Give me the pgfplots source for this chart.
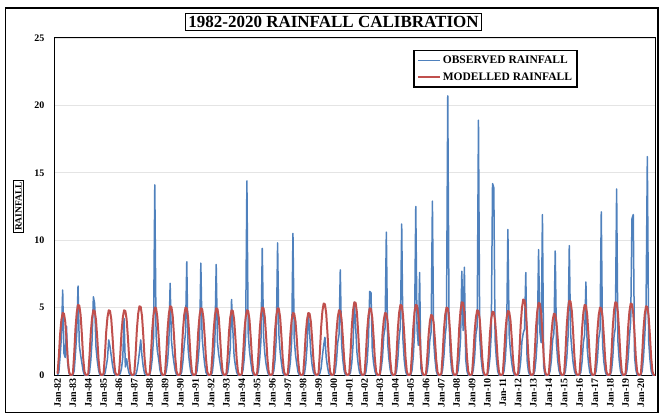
\documentclass[border=0pt]{standalone}
\usepackage{fontspec}
\setmainfont{Liberation Serif}
\usepackage{pgfplots}
\usepackage{pgfplotstable}
\pgfplotsset{compat=1.18}

\definecolor{obsblue}{HTML}{4F81BD}
\definecolor{modred}{HTML}{C0504D}
\definecolor{gridgray}{HTML}{E4E4E4}

% Monthly observed rainfall, Jan 1982 - Dec 2020 (one year per line)
\pgfplotstableread[row sep=\\, header=false]{
0 \\ 0.2 \\ 1.4 \\ 2.8 \\ 6.3 \\ 1.6 \\ 1.3 \\ 3.6 \\ 0.8 \\ 0.1 \\ 0 \\ 0 \\ % 1982
0 \\ 0.3 \\ 1.6 \\ 3.1 \\ 6.6 \\ 2.2 \\ 1.5 \\ 0.9 \\ 0.3 \\ 0 \\ 0 \\ 0 \\ % 1983
0 \\ 0.2 \\ 1.1 \\ 2.6 \\ 5.8 \\ 5.3 \\ 2.1 \\ 1.1 \\ 0.4 \\ 0 \\ 0 \\ 0 \\ % 1984
0 \\ 0.1 \\ 0.6 \\ 1.2 \\ 2.6 \\ 2.1 \\ 1.4 \\ 0.7 \\ 0.2 \\ 0 \\ 0 \\ 0 \\ % 1985
0 \\ 0.1 \\ 0.5 \\ 1.3 \\ 4.2 \\ 0.6 \\ 1.2 \\ 0.5 \\ 0.1 \\ 0 \\ 0 \\ 0 \\ % 1986
0 \\ 0 \\ 0.3 \\ 0.9 \\ 1.7 \\ 2.6 \\ 1.4 \\ 0.6 \\ 0.1 \\ 0 \\ 0 \\ 0 \\ % 1987
0 \\ 0.4 \\ 1.2 \\ 2.7 \\ 14.1 \\ 3.0 \\ 1.8 \\ 1.2 \\ 0.4 \\ 0 \\ 0 \\ 0 \\ % 1988
0 \\ 0.3 \\ 1.0 \\ 2.4 \\ 6.8 \\ 2.6 \\ 1.6 \\ 0.9 \\ 0.3 \\ 0 \\ 0 \\ 0 \\ % 1989
0 \\ 0.2 \\ 1.0 \\ 2.2 \\ 3.1 \\ 8.4 \\ 2.0 \\ 1.0 \\ 0.3 \\ 0 \\ 0 \\ 0 \\ % 1990
0 \\ 0.3 \\ 1.2 \\ 2.5 \\ 8.3 \\ 2.8 \\ 1.7 \\ 0.8 \\ 0.2 \\ 0 \\ 0 \\ 0 \\ % 1991
0 \\ 0.2 \\ 1.1 \\ 2.6 \\ 8.2 \\ 2.4 \\ 1.5 \\ 0.9 \\ 0.3 \\ 0 \\ 0 \\ 0 \\ % 1992
0 \\ 0.2 \\ 0.9 \\ 2.0 \\ 5.6 \\ 3.4 \\ 1.4 \\ 0.7 \\ 0.2 \\ 0 \\ 0 \\ 0 \\ % 1993
0 \\ 0.4 \\ 1.3 \\ 2.9 \\ 14.4 \\ 3.1 \\ 1.8 \\ 1.0 \\ 0.3 \\ 0 \\ 0 \\ 0 \\ % 1994
0 \\ 0.3 \\ 1.2 \\ 2.6 \\ 9.4 \\ 2.9 \\ 1.6 \\ 0.8 \\ 0.3 \\ 0 \\ 0 \\ 0 \\ % 1995
0 \\ 0.3 \\ 1.1 \\ 2.8 \\ 9.8 \\ 3.0 \\ 1.7 \\ 0.9 \\ 0.2 \\ 0 \\ 0 \\ 0 \\ % 1996
0 \\ 0.2 \\ 1.0 \\ 2.5 \\ 10.5 \\ 2.7 \\ 1.5 \\ 0.8 \\ 0.2 \\ 0 \\ 0 \\ 0 \\ % 1997
0 \\ 0.1 \\ 0.8 \\ 2.1 \\ 4.6 \\ 3.2 \\ 1.6 \\ 0.7 \\ 0.2 \\ 0 \\ 0 \\ 0 \\ % 1998
0 \\ 0.1 \\ 0.5 \\ 1.4 \\ 2.2 \\ 2.8 \\ 1.3 \\ 0.6 \\ 0.1 \\ 0 \\ 0 \\ 0 \\ % 1999
0 \\ 0.2 \\ 1.0 \\ 2.4 \\ 3.0 \\ 7.8 \\ 2.3 \\ 1.1 \\ 0.3 \\ 0 \\ 0 \\ 0 \\ % 2000
0 \\ 0.2 \\ 0.9 \\ 2.3 \\ 5.4 \\ 3.6 \\ 1.7 \\ 0.8 \\ 0.2 \\ 0 \\ 0 \\ 0 \\ % 2001
0 \\ 0.2 \\ 1.0 \\ 2.6 \\ 6.2 \\ 6.1 \\ 1.9 \\ 0.9 \\ 0.3 \\ 0 \\ 0 \\ 0 \\ % 2002
0 \\ 0.5 \\ 1.3 \\ 2.9 \\ 3.5 \\ 10.6 \\ 2.4 \\ 1.2 \\ 0.4 \\ 0 \\ 0 \\ 0 \\ % 2003
0 \\ 0.3 \\ 1.2 \\ 2.8 \\ 3.6 \\ 11.2 \\ 2.6 \\ 1.1 \\ 0.3 \\ 0 \\ 0 \\ 0 \\ % 2004
0 \\ 0.3 \\ 1.3 \\ 3.0 \\ 12.5 \\ 3.4 \\ 2.2 \\ 7.6 \\ 0.5 \\ 0 \\ 0 \\ 0 \\ % 2005
0 \\ 0.3 \\ 1.1 \\ 2.6 \\ 3.2 \\ 12.9 \\ 2.5 \\ 1.2 \\ 0.3 \\ 0 \\ 0 \\ 0 \\ % 2006
0 \\ 0.4 \\ 1.4 \\ 2.9 \\ 3.8 \\ 20.7 \\ 4.2 \\ 1.5 \\ 0.4 \\ 0 \\ 0 \\ 0 \\ % 2007
0 \\ 0.3 \\ 1.2 \\ 2.7 \\ 7.7 \\ 3.3 \\ 8.0 \\ 1.2 \\ 0.3 \\ 0 \\ 0 \\ 0 \\ % 2008
0 \\ 0.4 \\ 1.3 \\ 3.0 \\ 3.6 \\ 18.9 \\ 2.8 \\ 1.3 \\ 0.4 \\ 0 \\ 0 \\ 0 \\ % 2009
0 \\ 0.4 \\ 1.3 \\ 3.1 \\ 14.2 \\ 13.9 \\ 2.6 \\ 1.2 \\ 0.3 \\ 0 \\ 0 \\ 0 \\ % 2010
0 \\ 0.3 \\ 1.2 \\ 2.8 \\ 10.8 \\ 3.0 \\ 1.8 \\ 0.9 \\ 0.3 \\ 0 \\ 0 \\ 0 \\ % 2011
0 \\ 0.2 \\ 1.0 \\ 2.5 \\ 3.1 \\ 3.4 \\ 7.6 \\ 1.1 \\ 0.3 \\ 0 \\ 0 \\ 0 \\ % 2012
0 \\ 0.3 \\ 1.2 \\ 2.7 \\ 9.3 \\ 3.2 \\ 2.4 \\ 11.9 \\ 0.6 \\ 0 \\ 0 \\ 0 \\ % 2013
0 \\ 0.3 \\ 1.1 \\ 2.6 \\ 3.1 \\ 9.2 \\ 2.3 \\ 1.0 \\ 0.3 \\ 0 \\ 0 \\ 0 \\ % 2014
0 \\ 0.3 \\ 1.2 \\ 2.8 \\ 9.6 \\ 3.1 \\ 1.9 \\ 0.9 \\ 0.3 \\ 0 \\ 0 \\ 0 \\ % 2015
0 \\ 0.2 \\ 1.0 \\ 2.4 \\ 3.0 \\ 6.9 \\ 2.0 \\ 0.9 \\ 0.2 \\ 0 \\ 0 \\ 0 \\ % 2016
0 \\ 0.3 \\ 1.2 \\ 2.7 \\ 3.3 \\ 12.1 \\ 2.3 \\ 1.0 \\ 0.3 \\ 0 \\ 0 \\ 0 \\ % 2017
0 \\ 0.3 \\ 1.3 \\ 2.9 \\ 3.5 \\ 13.8 \\ 2.5 \\ 1.1 \\ 0.3 \\ 0 \\ 0 \\ 0 \\ % 2018
0 \\ 0.3 \\ 1.2 \\ 2.8 \\ 4.0 \\ 11.6 \\ 11.9 \\ 1.4 \\ 0.4 \\ 0 \\ 0 \\ 0 \\ % 2019
0 \\ 0.3 \\ 1.3 \\ 2.9 \\ 5.0 \\ 16.2 \\ 2.6 \\ 1.2 \\ 0.3 \\ 0 \\ 0 \\ 0 \\ % 2020
}\observed

% Monthly modelled rainfall, Jan 1982 - Dec 2020 (one year per line)
\pgfplotstableread[row sep=\\, header=false]{
0.09 \\ 1.38 \\ 3.04 \\ 4.09 \\ 4.60 \\ 4.55 \\ 3.96 \\ 2.67 \\ 1.15 \\ 0.23 \\ 0 \\ 0 \\ % 1982
0.10 \\ 1.56 \\ 3.43 \\ 4.63 \\ 5.20 \\ 5.15 \\ 4.47 \\ 3.02 \\ 1.30 \\ 0.26 \\ 0 \\ 0 \\ % 1983
0.10 \\ 1.44 \\ 3.17 \\ 4.27 \\ 4.80 \\ 4.75 \\ 4.13 \\ 2.78 \\ 1.20 \\ 0.24 \\ 0 \\ 0 \\ % 1984
0.10 \\ 1.44 \\ 3.17 \\ 4.27 \\ 4.80 \\ 4.75 \\ 4.13 \\ 2.78 \\ 1.20 \\ 0.24 \\ 0 \\ 0 \\ % 1985
0.10 \\ 1.44 \\ 3.17 \\ 4.27 \\ 4.80 \\ 4.75 \\ 4.13 \\ 2.78 \\ 1.20 \\ 0.24 \\ 0 \\ 0 \\ % 1986
0.10 \\ 1.53 \\ 3.37 \\ 4.54 \\ 5.10 \\ 5.05 \\ 4.39 \\ 2.96 \\ 1.28 \\ 0.26 \\ 0 \\ 0 \\ % 1987
0.10 \\ 1.50 \\ 3.30 \\ 4.45 \\ 5.00 \\ 4.95 \\ 4.30 \\ 2.90 \\ 1.25 \\ 0.25 \\ 0 \\ 0 \\ % 1988
0.10 \\ 1.53 \\ 3.37 \\ 4.54 \\ 5.10 \\ 5.05 \\ 4.39 \\ 2.96 \\ 1.28 \\ 0.26 \\ 0 \\ 0 \\ % 1989
0.10 \\ 1.50 \\ 3.30 \\ 4.45 \\ 5.00 \\ 4.95 \\ 4.30 \\ 2.90 \\ 1.25 \\ 0.25 \\ 0 \\ 0 \\ % 1990
0.10 \\ 1.49 \\ 3.27 \\ 4.41 \\ 4.95 \\ 4.90 \\ 4.26 \\ 2.87 \\ 1.24 \\ 0.25 \\ 0 \\ 0 \\ % 1991
0.10 \\ 1.49 \\ 3.27 \\ 4.41 \\ 4.95 \\ 4.90 \\ 4.26 \\ 2.87 \\ 1.24 \\ 0.25 \\ 0 \\ 0 \\ % 1992
0.10 \\ 1.44 \\ 3.17 \\ 4.27 \\ 4.80 \\ 4.75 \\ 4.13 \\ 2.78 \\ 1.20 \\ 0.24 \\ 0 \\ 0 \\ % 1993
0.10 \\ 1.44 \\ 3.17 \\ 4.27 \\ 4.80 \\ 4.75 \\ 4.13 \\ 2.78 \\ 1.20 \\ 0.24 \\ 0 \\ 0 \\ % 1994
0.10 \\ 1.50 \\ 3.30 \\ 4.45 \\ 5.00 \\ 4.95 \\ 4.30 \\ 2.90 \\ 1.25 \\ 0.25 \\ 0 \\ 0 \\ % 1995
0.10 \\ 1.49 \\ 3.27 \\ 4.41 \\ 4.95 \\ 4.90 \\ 4.26 \\ 2.87 \\ 1.24 \\ 0.25 \\ 0 \\ 0 \\ % 1996
0.09 \\ 1.38 \\ 3.04 \\ 4.09 \\ 4.60 \\ 4.55 \\ 3.96 \\ 2.67 \\ 1.15 \\ 0.23 \\ 0 \\ 0 \\ % 1997
0.09 \\ 1.38 \\ 3.04 \\ 4.09 \\ 4.60 \\ 4.55 \\ 3.96 \\ 2.67 \\ 1.15 \\ 0.23 \\ 0 \\ 0 \\ % 1998
0.11 \\ 1.59 \\ 3.50 \\ 4.72 \\ 5.30 \\ 5.25 \\ 4.56 \\ 3.07 \\ 1.33 \\ 0.27 \\ 0 \\ 0 \\ % 1999
0.10 \\ 1.44 \\ 3.17 \\ 4.27 \\ 4.80 \\ 4.75 \\ 4.13 \\ 2.78 \\ 1.20 \\ 0.24 \\ 0 \\ 0 \\ % 2000
0.11 \\ 1.62 \\ 3.56 \\ 4.81 \\ 5.40 \\ 5.35 \\ 4.64 \\ 3.13 \\ 1.35 \\ 0.27 \\ 0 \\ 0 \\ % 2001
0.10 \\ 1.49 \\ 3.27 \\ 4.41 \\ 4.95 \\ 4.90 \\ 4.26 \\ 2.87 \\ 1.24 \\ 0.25 \\ 0 \\ 0 \\ % 2002
0.09 \\ 1.38 \\ 3.04 \\ 4.09 \\ 4.60 \\ 4.55 \\ 3.96 \\ 2.67 \\ 1.15 \\ 0.23 \\ 0 \\ 0 \\ % 2003
0.10 \\ 1.56 \\ 3.43 \\ 4.63 \\ 5.20 \\ 5.15 \\ 4.47 \\ 3.02 \\ 1.30 \\ 0.26 \\ 0 \\ 0 \\ % 2004
0.10 \\ 1.56 \\ 3.43 \\ 4.63 \\ 5.20 \\ 5.15 \\ 4.47 \\ 3.02 \\ 1.30 \\ 0.26 \\ 0 \\ 0 \\ % 2005
0.09 \\ 1.34 \\ 2.94 \\ 3.96 \\ 4.45 \\ 4.41 \\ 3.83 \\ 2.58 \\ 1.11 \\ 0.22 \\ 0 \\ 0 \\ % 2006
0.10 \\ 1.50 \\ 3.30 \\ 4.45 \\ 5.00 \\ 4.95 \\ 4.30 \\ 2.90 \\ 1.25 \\ 0.25 \\ 0 \\ 0 \\ % 2007
0.11 \\ 1.62 \\ 3.56 \\ 4.81 \\ 5.40 \\ 5.35 \\ 4.64 \\ 3.13 \\ 1.35 \\ 0.27 \\ 0 \\ 0 \\ % 2008
0.10 \\ 1.44 \\ 3.17 \\ 4.27 \\ 4.80 \\ 4.75 \\ 4.13 \\ 2.78 \\ 1.20 \\ 0.24 \\ 0 \\ 0 \\ % 2009
0.09 \\ 1.41 \\ 3.10 \\ 4.18 \\ 4.70 \\ 4.65 \\ 4.04 \\ 2.73 \\ 1.18 \\ 0.24 \\ 0 \\ 0 \\ % 2010
0.10 \\ 1.43 \\ 3.14 \\ 4.23 \\ 4.75 \\ 4.70 \\ 4.09 \\ 2.76 \\ 1.19 \\ 0.24 \\ 0 \\ 0 \\ % 2011
0.11 \\ 1.68 \\ 3.70 \\ 4.98 \\ 5.60 \\ 5.54 \\ 4.82 \\ 3.25 \\ 1.40 \\ 0.28 \\ 0 \\ 0 \\ % 2012
0.11 \\ 1.61 \\ 3.53 \\ 4.76 \\ 5.35 \\ 5.30 \\ 4.60 \\ 3.10 \\ 1.34 \\ 0.27 \\ 0 \\ 0 \\ % 2013
0.09 \\ 1.37 \\ 3.00 \\ 4.05 \\ 4.55 \\ 4.50 \\ 3.91 \\ 2.64 \\ 1.14 \\ 0.23 \\ 0 \\ 0 \\ % 2014
0.11 \\ 1.65 \\ 3.63 \\ 4.90 \\ 5.50 \\ 5.45 \\ 4.73 \\ 3.19 \\ 1.38 \\ 0.28 \\ 0 \\ 0 \\ % 2015
0.10 \\ 1.56 \\ 3.43 \\ 4.63 \\ 5.20 \\ 5.15 \\ 4.47 \\ 3.02 \\ 1.30 \\ 0.26 \\ 0 \\ 0 \\ % 2016
0.10 \\ 1.50 \\ 3.30 \\ 4.45 \\ 5.00 \\ 4.95 \\ 4.30 \\ 2.90 \\ 1.25 \\ 0.25 \\ 0 \\ 0 \\ % 2017
0.11 \\ 1.62 \\ 3.56 \\ 4.81 \\ 5.40 \\ 5.35 \\ 4.64 \\ 3.13 \\ 1.35 \\ 0.27 \\ 0 \\ 0 \\ % 2018
0.11 \\ 1.59 \\ 3.50 \\ 4.72 \\ 5.30 \\ 5.25 \\ 4.56 \\ 3.07 \\ 1.33 \\ 0.27 \\ 0 \\ 0 \\ % 2019
0.10 \\ 1.53 \\ 3.37 \\ 4.54 \\ 5.10 \\ 5.05 \\ 4.39 \\ 2.96 \\ 1.28 \\ 0.26 \\ 0 \\ 0 \\ % 2020
}\modelled

\begin{document}
\begin{tikzpicture}
\begin{axis}[
  name=ax,
  scale only axis, width=600pt, height=337pt,
  xmin=-2, xmax=467, ymin=0, ymax=25,
  xtick={0,12,...,456},
  xticklabels={Jan-82,Jan-83,Jan-84,Jan-85,Jan-86,Jan-87,Jan-88,Jan-89,Jan-90,Jan-91,
    Jan-92,Jan-93,Jan-94,Jan-95,Jan-96,Jan-97,Jan-98,Jan-99,Jan-00,Jan-01,Jan-02,
    Jan-03,Jan-04,Jan-05,Jan-06,Jan-07,Jan-08,Jan-09,Jan-10,Jan-11,Jan-12,Jan-13,
    Jan-14,Jan-15,Jan-16,Jan-17,Jan-18,Jan-19,Jan-20},
  ytick={0,5,...,25},
  ymajorgrids, grid style={gridgray, line width=0.8pt},
  major tick length=0pt,
  axis line style={black, line width=1pt},
  /pgf/number format/assume math mode=true,
  tick label style={font=\bfseries\fontsize{10}{12}\selectfont},
  xticklabel style={rotate=90, anchor=east},
  yticklabel style={xshift=-7pt},
  legend style={at={(0.597,0.964)}, anchor=north west, draw=black, line width=1.3pt,
    font=\bfseries\fontsize{11.5}{13}\selectfont, inner xsep=3pt, inner ysep=3pt, row sep=4pt},
  legend cell align=left,
  legend image code/.code={\draw[#1] (0pt,0pt) -- (22pt,0pt);},
]
\addplot[obsblue, line width=1.5pt, line join=round] table[x expr=\coordindex, y index=0]{\observed};
\addlegendentry{OBSERVED RAINFALL}
\addplot[modred, line width=2pt, line join=round] table[x expr=\coordindex, y index=0]{\modelled};
\addlegendentry{MODELLED RAINFALL}
\end{axis}
% frame, title and y label, placed from the lower left corner of the plot area
\begin{scope}[shift={(ax.south west)}, x=1pt, y=1pt]
  \path (-55,-42) rectangle (605,375);
  \draw[line width=1.4pt] (-49.5,-37.5) rectangle (603,367);
  \node[draw, line width=1.2pt, inner sep=2.5pt, font=\bfseries\fontsize{17}{19}\selectfont]
    at (278.5,353) {1982-2020 RAINFALL CALIBRATION};
  \node[draw, line width=1pt, rotate=90, inner sep=2pt, font=\bfseries\fontsize{9.5}{11}\selectfont]
    at (-36.5,168.5) {RAINFALL};
\end{scope}
\end{tikzpicture}
\end{document}
